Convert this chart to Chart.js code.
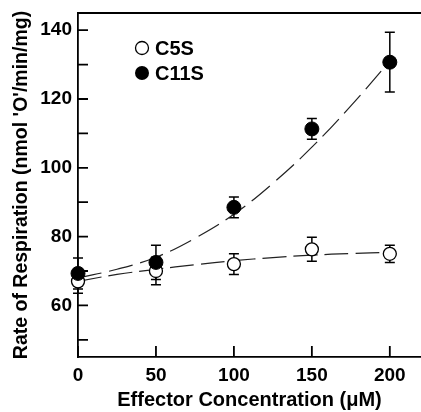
<!DOCTYPE html>
<html>
<head>
<meta charset="utf-8">
<script src="https://cdn.jsdelivr.net/npm/chart.js@4/dist/chart.umd.min.js"></script>
<style>
  html, body { margin: 0; padding: 0; background: #fff; }
  #wrap { width: 421px; height: 412px; }
</style>
</head>
<body>
<div id="wrap"><canvas id="chart"></canvas></div>
<script>
// measured points
const concentrations = [0, 50, 100, 150, 200];
const c5sRate = [67, 70, 72, 76.3, 75];
const c5sErr = [3.5, 4, 3, 3.5, 2.5];
const c11sRate = [69.3, 72.5, 88.5, 111.3, 130.7];
const c11sErr = [4.5, 5, 3, 3, 8.7];

// dashed fit curves
const fitX = [0, 25, 50, 75, 100, 125, 150, 175, 200];
const c5sFit = [67, 69, 70.5, 71.8, 73, 73.9, 74.6, 75.1, 75.4];
const c11sFit = [68, 70.5, 74, 79.5, 86.5, 95.5, 106, 118, 131];

const xTicks = [0, 50, 100, 150, 200];
const yTicks = [50, 60, 70, 80, 90, 100, 110, 120, 130, 140];
const yLabels = [60, 80, 100, 120, 140];

const FONT = 'Liberation Sans, Arial, Helvetica, sans-serif';

const toXY = (xs, ys) => xs.map((x, i) => ({ x, y: ys[i] }));

// error bars, inward ticks, top frame line and the legend
const extras = {
  id: 'extras',
  beforeDatasetsDraw(chart) {
    const ctx = chart.ctx;
    const xs = chart.scales.x, ys = chart.scales.y;
    ctx.save();
    ctx.strokeStyle = '#000';
    ctx.lineWidth = 1.5;
    [[c5sRate, c5sErr], [c11sRate, c11sErr]].forEach(([vals, errs]) => {
      vals.forEach((v, i) => {
        const px = xs.getPixelForValue(concentrations[i]);
        const top = ys.getPixelForValue(v + errs[i]);
        const bot = ys.getPixelForValue(v - errs[i]);
        ctx.beginPath();
        ctx.moveTo(px, top); ctx.lineTo(px, bot);
        ctx.moveTo(px - 5, top); ctx.lineTo(px + 5, top);
        ctx.moveTo(px - 5, bot); ctx.lineTo(px + 5, bot);
        ctx.stroke();
      });
    });
    ctx.restore();
  },
  afterDraw(chart) {
    const ctx = chart.ctx;
    const a = chart.chartArea;
    const xs = chart.scales.x, ys = chart.scales.y;
    ctx.save();
    ctx.strokeStyle = '#000';
    ctx.lineWidth = 1.8;
    ctx.beginPath();
    ctx.moveTo(a.left, a.top); ctx.lineTo(chart.width, a.top);
    yTicks.forEach(v => {
      const py = ys.getPixelForValue(v);
      ctx.moveTo(a.left, py); ctx.lineTo(a.left + 10, py);
    });
    xTicks.forEach(v => {
      const px = xs.getPixelForValue(v);
      ctx.moveTo(px, a.bottom); ctx.lineTo(px, a.bottom - 11);
    });
    ctx.stroke();

    // legend
    const lx = a.left + 64, ly1 = a.top + 35, ly2 = a.top + 60;
    ctx.lineWidth = 1.3;
    ctx.beginPath();
    ctx.arc(lx, ly1, 6.5, 0, Math.PI * 2);
    ctx.fillStyle = '#fff'; ctx.fill(); ctx.stroke();
    ctx.beginPath();
    ctx.arc(lx, ly2, 7, 0, Math.PI * 2);
    ctx.fillStyle = '#000'; ctx.fill();
    ctx.font = 'bold 20px ' + FONT;
    ctx.textBaseline = 'middle';
    ctx.fillText('C5S', lx + 13, ly1 + 1);
    ctx.fillText('C11S', lx + 13, ly2 + 1);
    ctx.restore();
  }
};

new Chart(document.getElementById('chart'), {
  type: 'scatter',
  data: {
    datasets: [
      {
        label: 'C5S fit', type: 'line', data: toXY(fitX, c5sFit),
        borderColor: '#222', borderWidth: 1.2, borderDash: [24, 7],
        pointRadius: 0, tension: 0.4, fill: false, order: 3, clip: false
      },
      {
        label: 'C11S fit', type: 'line', data: toXY(fitX, c11sFit),
        borderColor: '#222', borderWidth: 1.2, borderDash: [24, 8],
        pointRadius: 0, tension: 0.4, fill: false, order: 3, clip: false
      },
      {
        label: 'C5S', data: toXY(concentrations, c5sRate),
        pointRadius: 6.5, pointBackgroundColor: '#fff', pointBorderColor: '#000',
        pointBorderWidth: 1.3, showLine: false, order: 2, clip: false
      },
      {
        label: 'C11S', data: toXY(concentrations, c11sRate),
        pointRadius: 7, pointBackgroundColor: '#000', pointBorderColor: '#000',
        pointBorderWidth: 1, showLine: false, order: 1, clip: false
      }
    ]
  },
  options: {
    responsive: true,
    maintainAspectRatio: false,
    animation: false,
    layout: { autoPadding: false, padding: { top: 13, right: 0, left: 0, bottom: 0 } },
    plugins: { legend: { display: false }, tooltip: { enabled: false } },
    scales: {
      x: {
        type: 'linear', min: 0, max: 220,
        afterBuildTicks(scale) { scale.ticks = xTicks.map(v => ({ value: v })); },
        afterFit(scale) { scale.height = 55; scale.paddingLeft = 0; scale.paddingRight = 0; },
        grid: { display: true, drawOnChartArea: false, drawTicks: false },
        border: { color: '#000', width: 1.8 },
        ticks: {
          autoSkip: false, padding: 7, color: '#000',
          font: { family: FONT, size: 19, weight: 'bold' },
          callback: v => String(v)
        },
        title: {
          display: true, text: 'Effector Concentration (μM)', color: '#000',
          font: { family: FONT, size: 20, weight: 'bold' },
          padding: { top: 0, bottom: 0 }
        }
      },
      y: {
        type: 'linear', min: 45, max: 145,
        afterBuildTicks(scale) { scale.ticks = yTicks.map(v => ({ value: v })); },
        afterFit(scale) { scale.width = 78; scale.paddingTop = 0; scale.paddingBottom = 0; },
        grid: { display: true, drawOnChartArea: false, drawTicks: false },
        border: { color: '#000', width: 1.8 },
        ticks: {
          autoSkip: false, padding: 6, color: '#000',
          font: { family: FONT, size: 19, weight: 'bold' },
          callback: v => yLabels.includes(v) ? String(v) : ''
        },
        title: {
          display: true, text: "Rate of Respiration (nmol 'O'/min/mg)", color: '#000',
          font: { family: FONT, size: 19.5, weight: 'bold' },
          padding: { top: 10, bottom: 0 }
        }
      }
    }
  },
  plugins: [extras]
});
</script>
</body>
</html>
